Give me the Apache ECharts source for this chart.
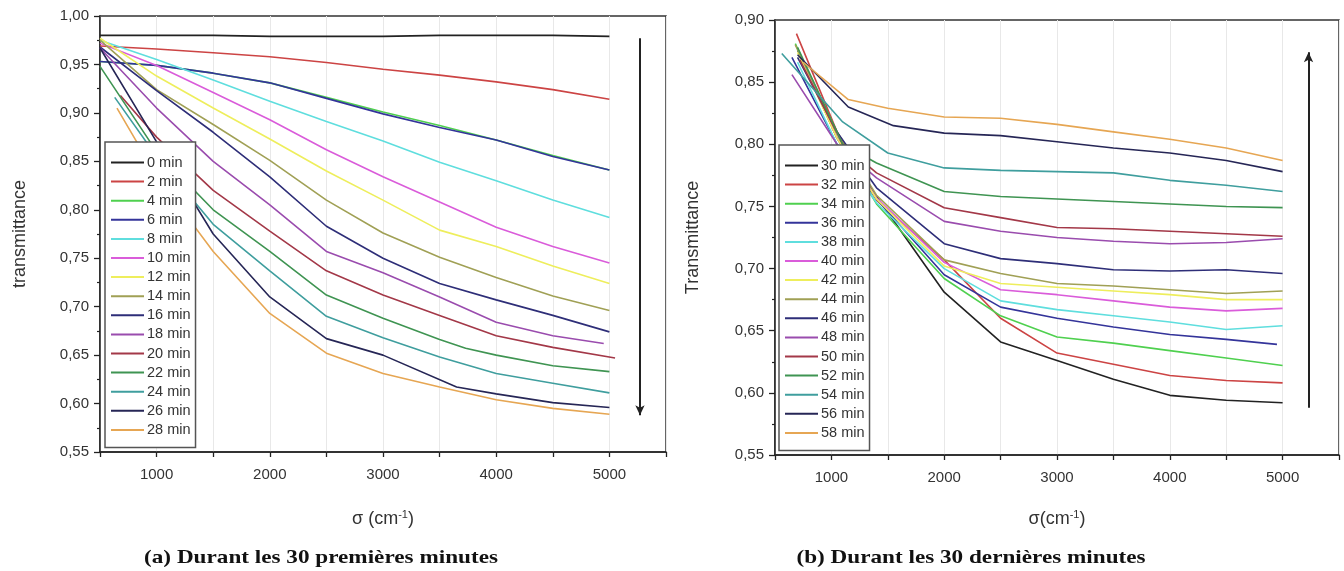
<!DOCTYPE html>
<html><head><meta charset="utf-8">
<script src="https://cdn.jsdelivr.net/npm/echarts@6/dist/echarts.min.js"></script>
<style>html,body{margin:0;padding:0;background:#fff}#c{width:1344px;height:571px}</style>
</head><body><div id="c"></div>
<script>
// ---------- data ----------
const labelsA = ['0 min','2 min','4 min','6 min','8 min','10 min','12 min','14 min','16 min','18 min','20 min','22 min','24 min','26 min','28 min'];
const labelsB = ['30 min','32 min','34 min','36 min','38 min','40 min','42 min','44 min','46 min','48 min','50 min','52 min','54 min','56 min','58 min'];
const colors = ['#222222','#cc4444','#4fd04f','#34349a','#5fdede','#da5cda','#eeee5c','#a0a055','#2e2e78','#9a4cae','#a33848','#3f9452','#3f9e9e','#262656','#e6a653'];
const xTickLabels = [1000, 2000, 3000, 4000, 5000];

const gridA = [500,1000,1500,2000,2500,3000,3500,4000,4500,5000];
const sigmaA = [
  gridA, gridA, gridA, gridA, gridA, gridA, gridA, gridA, gridA,
  [500,1000,1500,2000,2500,3000,3500,4000,4500,4950],
  [680,1000,1500,2000,2500,3000,3500,4000,4500,5050],
  [500,1000,1500,2000,2500,3000,3500,3730,4000,4500,5000],
  [630,1000,1500,2000,2500,3000,3500,4000,4500,5000],
  [500,1000,1500,2000,2500,3000,3650,4000,4500,5000],
  [650,1000,1500,2000,2500,3000,3500,4000,4500,5000]
];
const valuesA = [
  [0.980,0.980,0.980,0.979,0.979,0.979,0.980,0.980,0.980,0.979],
  [0.969,0.966,0.962,0.958,0.952,0.945,0.939,0.932,0.924,0.914],
  [0.953,0.949,0.941,0.931,0.916,0.901,0.887,0.872,0.856,0.841],
  [0.953,0.949,0.941,0.931,0.915,0.899,0.885,0.872,0.855,0.841],
  [0.975,0.955,0.934,0.912,0.891,0.871,0.849,0.830,0.810,0.792],
  [0.972,0.949,0.921,0.893,0.862,0.834,0.808,0.782,0.762,0.745],
  [0.977,0.938,0.905,0.873,0.840,0.810,0.779,0.762,0.742,0.724],
  [0.975,0.924,0.888,0.851,0.810,0.776,0.751,0.730,0.711,0.696],
  [0.968,0.923,0.880,0.834,0.783,0.750,0.724,0.707,0.691,0.674],
  [0.967,0.905,0.850,0.805,0.757,0.735,0.710,0.684,0.670,0.662],
  [0.918,0.875,0.820,0.778,0.737,0.712,0.691,0.670,0.658,0.647],
  [0.948,0.860,0.800,0.757,0.712,0.688,0.666,0.657,0.650,0.639,0.633],
  [0.916,0.855,0.785,0.737,0.690,0.668,0.648,0.631,0.621,0.611],
  [0.967,0.870,0.775,0.710,0.667,0.650,0.617,0.610,0.601,0.596],
  [0.905,0.835,0.757,0.693,0.652,0.631,0.617,0.604,0.595,0.589]
];

const sigmaB = [
  [700,1050,1400,2000,2500,3000,3500,4000,4500,5000],
  [690,1050,1400,2000,2500,3000,3500,4000,4500,5000],
  [680,1050,1400,2000,2500,3000,3500,4000,4500,5000],
  [650,1050,1400,2000,2500,3000,3500,4000,4500,4950],
  [700,1050,1400,2000,2500,3000,3500,4000,4500,5000],
  [720,1050,1400,2000,2500,3000,3500,4000,4500,5000],
  [700,1050,1400,2000,2500,3000,3500,4000,4500,5000],
  [680,1050,1400,2000,2500,3000,3500,4000,4500,5000],
  [700,1050,1400,2000,2500,3000,3500,4000,4500,5000],
  [650,1050,1400,2000,2500,3000,3500,4000,4500,5000],
  [720,1100,1400,2000,2500,3000,3500,4000,4500,5000],
  [700,1100,1400,2000,2500,3000,3500,4000,4500,5000],
  [560,1100,1500,2000,2500,3000,3500,4000,4500,5000],
  [700,1150,1550,2000,2500,3000,3500,4000,4500,5000],
  [750,1150,1500,2000,2500,3000,3500,4000,4500,5000]
];
const valuesB = [
  [0.876,0.805,0.758,0.681,0.641,0.626,0.611,0.598,0.594,0.592],
  [0.889,0.810,0.755,0.707,0.660,0.632,0.623,0.614,0.610,0.608],
  [0.881,0.805,0.752,0.692,0.662,0.645,0.640,0.634,0.628,0.622],
  [0.870,0.800,0.756,0.695,0.669,0.660,0.653,0.647,0.643,0.639],
  [0.866,0.800,0.753,0.700,0.674,0.667,0.662,0.657,0.651,0.654],
  [0.872,0.805,0.757,0.705,0.683,0.679,0.674,0.669,0.666,0.668],
  [0.874,0.805,0.756,0.702,0.688,0.685,0.682,0.679,0.675,0.675],
  [0.880,0.810,0.759,0.707,0.696,0.688,0.686,0.683,0.680,0.682],
  [0.870,0.810,0.765,0.720,0.708,0.704,0.699,0.698,0.699,0.696],
  [0.856,0.800,0.773,0.738,0.730,0.725,0.722,0.720,0.721,0.724],
  [0.868,0.800,0.777,0.749,0.741,0.733,0.732,0.730,0.728,0.726],
  [0.878,0.800,0.785,0.762,0.758,0.756,0.754,0.752,0.750,0.749],
  [0.873,0.818,0.793,0.781,0.779,0.778,0.777,0.771,0.767,0.762],
  [0.872,0.830,0.815,0.809,0.807,0.802,0.797,0.793,0.787,0.778],
  [0.866,0.836,0.829,0.822,0.821,0.816,0.810,0.804,0.797,0.787]
];

const arrowA = [5270, 0.977, 0.588];   // sigma, from, to (pointing down)
const arrowB = [5230, 0.588, 0.874];   // sigma, from, to (pointing up)

// ---------- chart ----------
const chart = echarts.init(document.getElementById('c'), null, {renderer: 'canvas'});
const FONT = '"Liberation Sans", Arial, sans-serif';
const SERIF = 'bold 19px "Liberation Serif", "Times New Roman", serif';

function mkSeries(labels, sig, vals, idx) {
  return labels.map((name, i) => ({
    type: 'line', name, xAxisIndex: idx, yAxisIndex: idx,
    data: sig[i].map((s, j) => [s, vals[i][j]]),
    symbol: 'none', showSymbol: false,
    lineStyle: {width: 1.6, color: colors[i]},
    itemStyle: {color: colors[i]},
    emphasis: {disabled: true},
    silent: true, z: 2
  }));
}
function arrowSeries(a, idx) {
  return {
    type: 'line', name: 'arrow' + idx, xAxisIndex: idx, yAxisIndex: idx, data: [],
    markLine: {
      silent: true, symbol: ['none', 'arrow'], symbolSize: [7, 10],
      label: {show: false},
      lineStyle: {color: '#222', width: 2, type: 'solid'},
      data: [[{coord: [a[0], a[1]]}, {coord: [a[0], a[2]]}]]
    }
  };
}
function xAxis(idx) {
  return {
    type: 'value', gridIndex: idx, min: 500, max: 5500, interval: 500,
    name: 'σ' + (idx === 0 ? ' ' : '') + '(cm{sup|-1})',
    nameLocation: 'middle', nameGap: idx === 0 ? 57 : 54,
    nameTextStyle: {fontSize: 18, color: '#333', fontFamily: FONT,
      rich: {sup: {fontSize: 11, verticalAlign: 'top', color: '#333', padding: [0,0,9,0], fontFamily: FONT}}},
    axisLine: {show: true, onZero: false, lineStyle: {color: '#222', width: 1.5}},
    axisTick: {show: true, inside: false, length: 5, lineStyle: {color: '#222', width: 1.3}},
    axisLabel: {fontSize: 15, color: '#333', fontFamily: FONT, margin: 15,
      formatter: v => xTickLabels.includes(v) ? String(v) : ''},
    splitLine: {show: true, lineStyle: {color: '#e8e8e8', width: 1}}
  };
}
function yAxis(idx, max, name) {
  return {
    type: 'value', gridIndex: idx, min: 0.55, max: max, interval: 0.05,
    name: name, nameLocation: 'middle', nameGap: idx === 0 ? 71 : 73, nameRotate: 90,
    nameTextStyle: {fontSize: 18, color: '#333', fontFamily: FONT},
    axisLine: {show: true, onZero: false, lineStyle: {color: '#222', width: 1.5}},
    axisTick: {show: true, inside: false, length: 6, lineStyle: {color: '#222', width: 1.3}},
    minorTick: {show: true, splitNumber: 2, length: 3, lineStyle: {color: '#222', width: 1.2}},
    axisLabel: {fontSize: 15, color: '#333', fontFamily: FONT, margin: 11,
      formatter: v => v.toFixed(2).replace('.', ',')},
    splitLine: {show: false}
  };
}
function legend(labels, left, top) {
  return {
    data: labels, orient: 'vertical', left: left, top: top,
    itemWidth: 33, itemHeight: 12, itemGap: 4.1,
    padding: [13, 5, 10, 5],
    backgroundColor: '#fff', borderColor: '#555', borderWidth: 1.5,
    selectedMode: false,
    itemStyle: {opacity: 0},
    textStyle: {fontSize: 14.5, lineHeight: 14, color: '#333', fontFamily: FONT, padding: [0, 0, 0, -2]},
    lineStyle: {width: 2}
  };
}

chart.setOption({
  animation: false,
  backgroundColor: '#fff',
  grid: [
    {left: 100, top: 16, right: 678, bottom: 119, show: true, borderColor: '#333', borderWidth: 1.5, backgroundColor: 'transparent'},
    {left: 775, top: 20, right: 5, bottom: 116, show: true, borderColor: '#333', borderWidth: 1.5, backgroundColor: 'transparent'}
  ],
  xAxis: [xAxis(0), xAxis(1)],
  yAxis: [yAxis(0, 1.00, 'transmittance'), yAxis(1, 0.90, 'Transmittance')],
  legend: [legend(labelsA, 105, 142), legend(labelsB, 779, 145)],
  series: [
    ...mkSeries(labelsA, sigmaA, valuesA, 0),
    ...mkSeries(labelsB, sigmaB, valuesB, 1),
    arrowSeries(arrowA, 0),
    arrowSeries(arrowB, 1)
  ],
  graphic: [
    {type: 'text', x: 321, y: 558, scaleX: 1.22, style: {text: '(a) Durant les 30 premières minutes', font: SERIF, fill: '#111', textAlign: 'center', textVerticalAlign: 'middle'}},
    {type: 'text', x: 971, y: 558, scaleX: 1.22, style: {text: '(b) Durant les 30 dernières minutes', font: SERIF, fill: '#111', textAlign: 'center', textVerticalAlign: 'middle'}}
  ]
});
</script>
</body></html>
